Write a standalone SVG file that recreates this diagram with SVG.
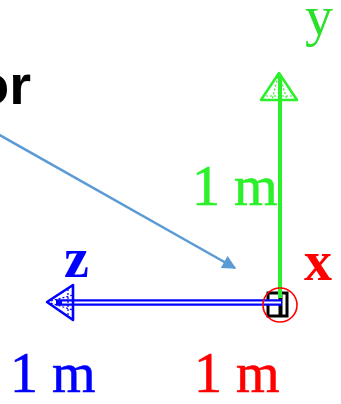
<svg xmlns="http://www.w3.org/2000/svg" width="341" height="404" viewBox="0 0 341 404">
  <style>
    .lbl { font-family: "Liberation Serif", "Times New Roman", serif; font-size: 56px; }
    .b { font-weight: bold; }
    .title { font-family: "Liberation Sans", Arial, sans-serif; font-size: 56px; font-weight: bold; fill: #000; }
    .cone { stroke-width: 1.2; stroke-dasharray: 2 2; fill: none; }
  </style>
  <defs>
    <marker id="callout" viewBox="0 0 10 10" refX="9" refY="5" markerWidth="6" markerHeight="5.5" orient="auto" markerUnits="strokeWidth">
      <path d="M0,0 L10,5 L0,10 Z" fill="#5B9BD5"/>
    </marker>
  </defs>
  <rect width="341" height="404" fill="#fff"/>

  <g id="title">
    <text class="title" x="31" y="104" text-anchor="end">or</text>
  </g>

  <g id="connectors">
    <line x1="-4" y1="133" x2="235" y2="268" stroke="#5B9BD5" stroke-width="2.5" marker-end="url(#callout)"/>
  </g>

  <g id="origin-box">
    <rect x="268" y="293" width="19" height="23" fill="#fff" stroke="#000" stroke-width="3"/>
    <line x1="280.5" y1="295" x2="280.5" y2="316" stroke="#000" stroke-width="4"/>
  </g>

  <g id="y-axis">
    <line x1="280" y1="76" x2="280" y2="298" stroke="#2bf02b" stroke-width="4"/>
    <path d="M279,73 L261,100 L297,100 Z" fill="none" stroke="#2bf02b" stroke-width="2.6" stroke-linejoin="round"/>
    <path d="M279,73 L272,100 M279,73 L287,100 M266,96 L292,96" class="cone" stroke="#2bf02b"/>
    <text class="lbl" x="305" y="35" fill="#2be02b">y</text>
    <text class="lbl" x="192" y="205" fill="#2bf02b" stroke="#2bf02b" stroke-width="0.6">1 m</text>
  </g>

  <g id="z-axis">
    <line x1="56" y1="302.5" x2="282" y2="302.5" stroke="#0000ff" stroke-width="6.5"/>
    <line x1="62" y1="302.5" x2="281" y2="302.5" stroke="#fff" stroke-width="1.8"/>
    <path d="M47,302 L73,285 L73,320 Z" fill="none" stroke="#0000ff" stroke-width="2.6" stroke-linejoin="round"/>
    <path d="M47,302 L73,295 M47,302 L73,310 M68,289 L68,316" class="cone" stroke="#0000ff"/>
    <text class="lbl b" x="64" y="277" fill="#0000ff" font-size="52">z</text>
    <text class="lbl" x="10" y="392" fill="#0000ff" stroke="#0000ff" stroke-width="0.6">1 m</text>
  </g>

  <g id="x-axis">
    <circle cx="280" cy="305" r="17" fill="none" stroke="#ff0000" stroke-width="1.6"/>
    <text class="lbl b" x="304" y="280" fill="#ff0000" font-size="52">x</text>
    <text class="lbl" x="194" y="392" fill="#ff0000" stroke="#ff0000" stroke-width="0.6">1 m</text>
  </g>
</svg>
